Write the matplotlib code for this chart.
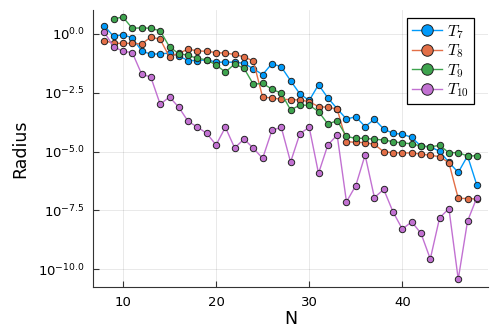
import numpy as np
import matplotlib
matplotlib.use("Agg")
import matplotlib.pyplot as plt
from matplotlib.font_manager import FontProperties

# N values
n_a = np.arange(8, 49)      # T7, T8, T10
n_b = np.arange(9, 49)      # T9

# log10(radius)
t7_log = [0.34, -0.10, -0.03, -0.17, -0.71, -0.87, -0.84, -0.82, -0.94, -1.13,
          -1.13, -1.10, -1.20, -1.20, -1.20, -1.25, -1.48, -1.73, -1.26, -1.40,
          -1.99, -2.55, -2.83, -2.16, -2.72, -3.18, -3.62, -3.52, -3.94, -3.63,
          -4.04, -4.23, -4.26, -4.40, -4.77, -4.80, -4.99, -5.46, -5.89, -5.19,
          -6.43]
t8_log = [-0.28, -0.40, -0.40, -0.40, -0.43, -0.13, -0.23, -0.98, -0.82, -0.65,
          -0.72, -0.74, -0.79, -0.82, -0.87, -0.98, -1.15, -2.69, -2.72, -2.78,
          -2.79, -2.81, -2.88, -3.09, -3.12, -3.19, -4.58, -4.61, -4.62, -4.70,
          -5.01, -5.05, -5.06, -5.06, -5.11, -5.16, -5.22, -5.48, -6.99, -7.00,
          -7.02]
t9_log = [0.64, 0.72, 0.24, 0.26, 0.24, 0.13, -0.55, -0.84, -0.91, -1.04,
          -1.10, -1.32, -1.62, -1.28, -1.46, -2.14, -2.10, -2.35, -2.52, -3.23,
          -3.03, -3.03, -3.30, -3.83, -3.69, -4.36, -4.44, -4.44, -4.48, -4.51,
          -4.58, -4.64, -4.67, -4.77, -4.80, -4.74, -5.05, -5.05, -5.19, -5.18]
t10_log = [0.07, -0.54, -0.74, -0.79, -1.70, -1.84, -2.99, -2.68, -3.12, -3.72,
           -3.96, -4.23, -4.72, -3.97, -4.85, -4.47, -4.86, -5.29, -4.10, -3.97,
           -5.45, -4.24, -3.97, -5.93, -4.72, -4.30, -7.14, -6.45, -5.15, -6.96,
           -6.61, -7.57, -8.30, -7.99, -8.48, -9.57, -7.82, -7.43, -10.43, -7.96,
           -6.96]

ytick_exp = [0.0, -2.5, -5.0, -7.5, -10.0]
ytick_labels = [r"$10^{0.0}$", r"$10^{-2.5}$", r"$10^{-5.0}$", r"$10^{-7.5}$", r"$10^{-10.0}$"]

series = [
    (n_a, t7_log, "#009AFA", r"$T_{7}$"),
    (n_a, t8_log, "#E36F47", r"$T_{8}$"),
    (n_b, t9_log, "#3EA44E", r"$T_{9}$"),
    (n_a, t10_log, "#C271D2", r"$T_{10}$"),
]

fig = plt.figure(figsize=(4.98, 3.32), dpi=100)
ax = fig.add_axes([0.187, 0.135, 0.793, 0.835])

for n, logs, col, lab in series:
    ax.plot(n, 10.0 ** np.array(logs), color=col, lw=1.0, marker="o", ms=4.6,
            mfc=col, mec="#222222", mew=0.7, label=lab)

ax.set_yscale("log")
ax.set_xlim(6.8, 49.2)
ax.set_ylim(10 ** -10.77, 10 ** 1.02)
ax.set_xticks([10, 20, 30, 40])
ax.set_yticks([10 ** e for e in ytick_exp])
ax.set_yticklabels(ytick_labels)
ax.yaxis.set_minor_locator(matplotlib.ticker.NullLocator())

ax.grid(True, color="black", alpha=0.1, lw=0.6)
ax.set_axisbelow(True)
for s in ["top", "right"]:
    ax.spines[s].set_visible(False)
for s in ["left", "bottom"]:
    ax.spines[s].set_color("#333333")
ax.tick_params(direction="in", length=4, width=0.8, color="#333333",
               labelsize=9.5, pad=6)

ax.set_xlabel("N", fontsize=12.5, labelpad=1)
ax.set_ylabel("Radius", fontsize=12.5, labelpad=6)

leg = ax.legend(loc="upper right", bbox_to_anchor=(474 / 498, 1 - 18 / 332),
                bbox_transform=fig.transFigure, fancybox=False,
                framealpha=1, edgecolor="black", markerscale=1.8,
                handlelength=1.9, handletextpad=0.3, borderpad=0.3,
                borderaxespad=0, labelspacing=0.12,
                prop=FontProperties(size=11.5, math_fontfamily="cm"))
leg.get_frame().set_linewidth(0.9)

fig.savefig("out.png", dpi=100)
